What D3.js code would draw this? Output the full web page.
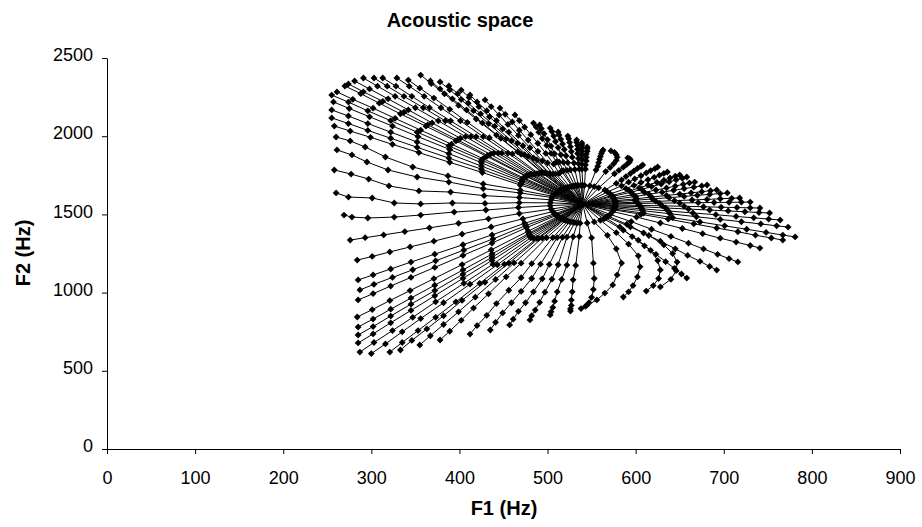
<!DOCTYPE html>
<html>
<head>
<meta charset="utf-8">
<script src="https://cdn.jsdelivr.net/npm/d3@7"></script>
<style>
  body { margin: 0; background: #fff; }
  text { font-family: Arial, "Liberation Sans", sans-serif; fill: #000; }
</style>
</head>
<body>
<svg id="chart" width="922" height="527"></svg>
<script>
// Neutral (starting) configuration: F1, F2 in Hz
const center = [540, 1565];

// Successive steps along each articulatory trajectory, [F1, F2] in Hz.
// Entry j of every ring belongs to trajectory j.
const ring1 = [[576,1534],[576,1542],[577,1549],[577,1555],[577,1561],[577,1568],[577,1573],[577,1581],[576,1587],[576,1596],[575,1604],[574,1615],[573,1621],[571,1631],[568,1644],[565,1656],[558,1670],[553,1678],[548,1683],[542,1686],[540,1686],[538,1686],[535,1685],[533,1684],[531,1682],[529,1680],[528,1679],[525,1676],[523,1673],[522,1671],[521,1669],[521,1668],[520,1666],[519,1665],[518,1663],[518,1663],[517,1659],[516,1657],[515,1654],[514,1652],[514,1650],[513,1647],[512,1645],[512,1644],[511,1640],[510,1637],[510,1635],[509,1631],[508,1627],[507,1623],[506,1616],[505,1608],[504,1593],[503,1574],[503,1556],[504,1534],[506,1518],[508,1504],[509,1498],[510,1493],[512,1486],[513,1482],[514,1479],[515,1477],[516,1474],[517,1471],[518,1469],[518,1467],[519,1465],[521,1462],[523,1457],[525,1454],[528,1451],[531,1448],[534,1446],[537,1444],[545,1445],[553,1452],[560,1462],[564,1472],[566,1478],[567,1484],[569,1489],[571,1500],[574,1518],[575,1529]];
const ring2 = [[609,1508],[608,1524],[607,1536],[606,1549],[604,1558],[603,1570],[601,1578],[599,1590],[601,1600],[600,1615],[597,1626],[595,1642],[593,1650],[589,1665],[584,1683],[578,1698],[576,1760],[566,1774],[555,1784],[543,1789],[539,1789],[536,1789],[531,1787],[526,1785],[522,1782],[518,1779],[516,1776],[513,1762],[509,1759],[506,1758],[503,1757],[502,1761],[499,1763],[497,1765],[495,1765],[493,1769],[490,1761],[488,1761],[485,1759],[482,1757],[480,1755],[478,1750],[476,1746],[476,1742],[473,1733],[472,1728],[471,1720],[471,1709],[470,1698],[469,1688],[469,1655],[469,1637],[468,1608],[468,1575],[467,1544],[468,1505],[472,1472],[474,1443],[475,1428],[476,1415],[478,1393],[479,1380],[479,1371],[480,1362],[481,1351],[484,1347],[488,1346],[490,1347],[494,1349],[499,1350],[506,1351],[511,1352],[517,1354],[522,1355],[529,1357],[536,1359],[550,1350],[568,1366],[578,1383],[586,1399],[582,1420],[594,1420],[590,1437],[595,1454],[601,1483],[606,1501]];
const ring3 = [[642,1479],[639,1504],[637,1522],[634,1541],[630,1555],[627,1572],[623,1583],[619,1599],[618,1611],[615,1629],[610,1641],[607,1660],[604,1669],[598,1685],[592,1706],[584,1720],[581,1782],[571,1800],[557,1808],[543,1816],[539,1821],[535,1825],[530,1828],[523,1831],[518,1833],[513,1835],[510,1835],[507,1822],[500,1830],[494,1842],[488,1848],[484,1861],[478,1871],[474,1882],[470,1884],[466,1900],[460,1887],[455,1892],[448,1892],[444,1892],[439,1892],[435,1884],[432,1876],[431,1871],[427,1856],[425,1848],[425,1830],[425,1809],[425,1789],[426,1768],[427,1695],[427,1665],[428,1620],[429,1570],[430,1528],[433,1472],[436,1420],[437,1369],[438,1343],[437,1317],[436,1273],[437,1247],[437,1226],[437,1206],[438,1182],[443,1178],[451,1182],[456,1188],[462,1190],[470,1188],[482,1185],[492,1182],[502,1180],[512,1178],[522,1176],[532,1174],[552,1188],[578,1280],[592,1310],[603,1335],[596,1358],[615,1365],[609,1381],[618,1405],[628,1445],[637,1470]];
const ring4 = [[673,1452],[669,1485],[665,1509],[660,1534],[655,1552],[650,1573],[644,1588],[638,1607],[635,1621],[630,1642],[623,1656],[618,1678],[614,1688],[606,1704],[599,1727],[589,1742],[586,1802],[575,1824],[558,1831],[544,1842],[539,1851],[535,1858],[528,1866],[521,1875],[515,1882],[508,1887],[504,1890],[498,1890],[489,1903],[480,1926],[472,1939],[466,1956],[459,1970],[453,1983],[447,1987],[442,2007],[434,1990],[427,1997],[419,1997],[413,1997],[407,1997],[401,1987],[398,1976],[396,1970],[391,1949],[388,1938],[389,1915],[388,1888],[388,1860],[389,1833],[387,1746],[388,1707],[390,1643],[392,1573],[394,1515],[399,1443],[403,1374],[404,1306],[405,1272],[404,1238],[403,1179],[404,1145],[404,1118],[404,1091],[405,1059],[412,1054],[423,1059],[429,1066],[441,1084],[453,1101],[470,1095],[482,1090],[494,1088],[505,1086],[516,1084],[529,1082],[553,1090],[584,1189],[603,1235],[617,1270],[610,1299],[632,1305],[628,1329],[640,1359],[653,1410],[666,1440]];
const ring5 = [[701,1427],[696,1468],[691,1498],[684,1528],[677,1549],[671,1575],[664,1592],[655,1615],[650,1630],[643,1654],[635,1669],[629,1694],[624,1705],[614,1722],[606,1747],[594,1761],[590,1820],[578,1846],[559,1852],[544,1865],[539,1879],[534,1889],[527,1902],[519,1915],[512,1927],[504,1936],[499,1941],[489,1955],[478,1975],[467,2005],[456,2026],[449,2047],[440,2064],[433,2081],[426,2085],[419,2110],[409,2089],[401,2098],[390,2098],[384,2098],[376,2098],[369,2085],[364,2073],[362,2064],[356,2039],[352,2026],[353,1997],[352,1963],[352,1929],[354,1895],[347,1803],[352,1739],[354,1650],[356,1567],[356,1496],[366,1414],[371,1329],[372,1246],[373,1203],[372,1161],[371,1089],[372,1047],[372,1013],[372,980],[373,941],[382,935],[396,941],[403,950],[418,971],[433,992],[456,1015],[470,1008],[484,1005],[497,1003],[511,1005],[528,1005],[552,1020],[579,1113],[605,1165],[625,1205],[623,1245],[642,1250],[645,1280],[660,1316],[676,1377],[692,1413]];
const ring6 = [[726,1405],[720,1453],[714,1487],[705,1522],[697,1546],[689,1576],[681,1596],[670,1622],[663,1638],[655,1665],[645,1681],[638,1708],[632,1719],[621,1737],[612,1765],[598,1778],[593,1835],[579,1866],[560,1871],[544,1886],[539,1903],[534,1916],[526,1933],[517,1950],[509,1966],[500,1978],[494,1985],[481,2010],[468,2038],[455,2075],[442,2100],[434,2124],[424,2143],[416,2163],[408,2168],[399,2197],[389,2172],[379,2182],[366,2182],[359,2182],[350,2182],[342,2168],[337,2153],[333,2143],[327,2114],[322,2099],[324,2065],[322,2026],[322,1987],[324,1948],[316,1867],[319,1784],[320,1682],[326,1573],[326,1483],[338,1390],[344,1292],[345,1195],[347,1146],[345,1097],[344,1013],[345,965],[345,926],[345,886],[347,842],[356,834],[373,842],[382,852],[399,877],[416,901],[442,930],[459,935],[475,935],[491,938],[508,945],[527,952],[550,970],[574,1049],[602,1100],[628,1145],[634,1198],[647,1195],[659,1238],[677,1279],[696,1348],[716,1389]];
const ring7 = [[748,1385],[742,1439],[734,1478],[724,1517],[715,1544],[706,1577],[696,1600],[684,1628],[675,1645],[666,1674],[654,1692],[646,1721],[639,1733],[627,1751],[617,1780],[602,1794],[594,1848],[578,1882],[561,1888],[545,1904],[539,1925],[534,1940],[525,1960],[515,1981],[507,2001],[496,2016],[490,2026],[474,2058],[460,2091],[445,2135],[431,2163],[422,2189],[410,2211],[402,2234],[392,2239],[383,2271],[371,2244],[360,2255],[346,2255],[337,2255],[327,2255],[319,2239],[313,2223],[309,2211],[302,2179],[296,2162],[298,2124],[296,2081],[296,2037],[299,1993],[293,1931],[295,1835],[297,1726],[301,1605],[296,1477],[314,1369],[321,1260],[322,1151],[324,1097],[322,1042],[321,949],[322,894],[322,850],[322,807],[324,757],[335,749],[353,757],[363,768],[382,796],[402,823],[431,855],[449,870],[467,880],[486,888],[506,905],[527,918],[547,935],[565,997],[597,1045],[626,1090],[644,1155],[646,1140],[673,1200],[693,1245],[714,1323],[736,1367]];
const ring8 = [[767,1368],[760,1427],[751,1470],[740,1512],[730,1542],[720,1578],[709,1603],[696,1633],[685,1652],[675,1682],[661,1701],[653,1731],[645,1744],[632,1762],[622,1793],[606,1807],[593,1857],[576,1896],[562,1902],[545,1920],[539,1944],[533,1961],[524,1984],[513,2008],[505,2030],[493,2049],[487,2059],[468,2100],[452,2140],[436,2189],[420,2219],[411,2248],[398,2272],[389,2296],[378,2302],[368,2337],[355,2307],[343,2320],[328,2320],[318,2320],[307,2320],[298,2302],[291,2284],[288,2272],[279,2236],[274,2218],[275,2177],[274,2129],[274,2081],[276,2033],[276,1970],[278,1880],[277,1758],[274,1611],[278,1483],[293,1351],[301,1231],[302,1113],[303,1053],[302,993],[301,891],[302,831],[302,783],[302,736],[303,681],[316,672],[335,681],[346,694],[367,724],[389,753],[420,789],[441,810],[461,830],[482,852],[504,877],[526,896],[543,912],[556,953],[592,1005],[620,1045],[652,1119],[640,1085],[684,1167],[706,1217],[730,1301],[754,1349]];
const ring9 = [[781,1356],[773,1419],[764,1464],[752,1509],[741,1541],[730,1579],[718,1605],[704,1637],[692,1656],[681,1688],[667,1707],[658,1739],[650,1752],[636,1771],[625,1803],[608,1816],[591,1861],[572,1906],[563,1912],[545,1931],[539,1957],[533,1976],[523,2001],[512,2027],[503,2052],[491,2072],[484,2084],[463,2136],[446,2180],[429,2232],[412,2264],[402,2295],[388,2321],[378,2347],[367,2353],[356,2391],[342,2359],[329,2372],[313,2372],[303,2372],[291,2372],[281,2353],[274,2334],[270,2321],[261,2283],[255,2263],[257,2219],[255,2168],[255,2117],[258,2065],[260,1995],[261,1912],[258,1784],[260,1637],[269,1496],[276,1336],[284,1208],[285,1081],[287,1017],[285,953],[284,844],[285,780],[285,729],[285,678],[287,620],[300,610],[321,620],[333,633],[355,665],[378,697],[412,735],[435,761],[457,793],[480,825],[503,857],[526,882],[538,898],[545,921],[586,972],[612,1010],[658,1093],[628,1036],[692,1144],[716,1196],[741,1285],[767,1336]];

const xTicks = [0, 100, 200, 300, 400, 500, 600, 700, 800, 900];
const yTicks = [0, 500, 1000, 1500, 2000, 2500];

const svg = d3.select("#chart");
const x = d3.scaleLinear().domain([0, 900]).range([107, 900]);
const y = d3.scaleLinear().domain([0, 2500]).range([449, 58]);

const rings = [ring1, ring2, ring3, ring4, ring5, ring6, ring7, ring8, ring9];
const nRays = d3.min(rings, r => r.length);
const rays = d3.range(nRays).map(j => [center].concat(rings.map(r => r[j])));

// axes
const fmt = d3.format("d");
const xAxis = svg.append("g").attr("transform", "translate(0,449)")
  .call(d3.axisBottom(x).tickValues(xTicks).tickFormat(fmt).tickSize(5).tickPadding(17).tickSizeOuter(0));
const yAxis = svg.append("g").attr("transform", "translate(107,0)")
  .call(d3.axisLeft(y).tickValues(yTicks).tickFormat(fmt).tickSize(5).tickPadding(9).tickSizeOuter(0));
[xAxis, yAxis].forEach(g => {
  g.selectAll("path.domain").attr("stroke", "#000").attr("stroke-width", 1);
  g.selectAll(".tick line").attr("stroke", "#000");
  g.selectAll(".tick text").style("font-size", "18px").attr("fill", "#000")
    .style("font-family", "Arial, 'Liberation Sans', sans-serif");
});
yAxis.selectAll(".tick text").attr("dy", "0.15em");

// trajectories
const line = d3.line().x(d => x(d[0])).y(d => y(d[1]));
svg.append("g").selectAll("path").data(rays).join("path")
  .attr("d", line).attr("fill", "none").attr("stroke", "#000").attr("stroke-width", 1);

// markers
const pts = [center].concat(...rings);
const diamond = "M0,-3.4L3.4,0L0,3.4L-3.4,0Z";
svg.append("g").selectAll("path").data(pts).join("path")
  .attr("transform", d => `translate(${x(d[0])},${y(d[1])})`)
  .attr("d", diamond).attr("fill", "#000");

// titles
svg.append("text").attr("x", 460).attr("y", 27).attr("text-anchor", "middle")
  .style("font-size", "20px").style("font-weight", "bold").text("Acoustic space");
svg.append("text").attr("x", 504).attr("y", 515).attr("text-anchor", "middle")
  .style("font-size", "20px").style("font-weight", "bold").text("F1 (Hz)");
svg.append("text").attr("transform", "translate(30,253) rotate(-90)").attr("text-anchor", "middle")
  .style("font-size", "20px").style("font-weight", "bold").text("F2 (Hz)");
</script>
</body>
</html>
